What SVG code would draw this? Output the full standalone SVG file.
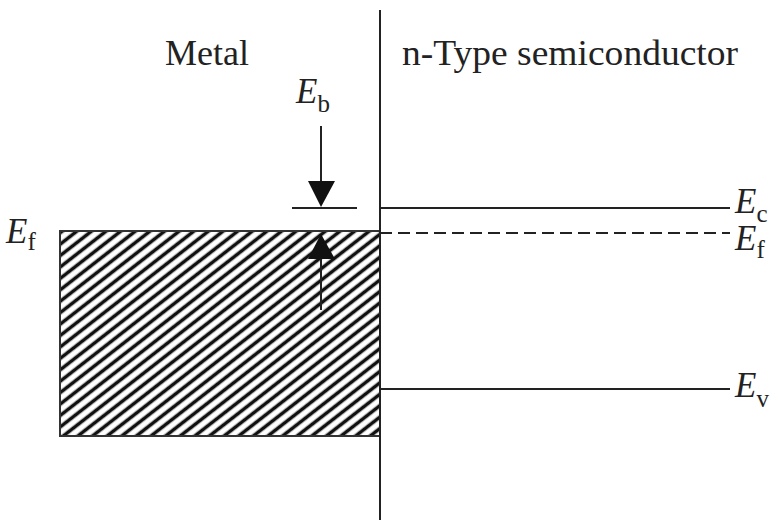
<svg xmlns="http://www.w3.org/2000/svg" width="777" height="520" viewBox="0 0 777 520">
<style>
.ln{stroke:#222;stroke-width:2;fill:none}
.t{font-family:"Liberation Serif","Times New Roman",serif;fill:#222}
.lbl{font-size:36px}
.it{font-style:italic;font-size:35px}
.sub{font-size:25px}
</style>
<defs>
<pattern id="hatch" width="9" height="9" patternUnits="userSpaceOnUse" patternTransform="rotate(-38)">
<rect width="9" height="9" fill="#fff"/>
<line x1="0" y1="4.5" x2="9" y2="4.5" stroke="#111" stroke-width="3.6"/>
</pattern>
</defs>
<g id="metal">
<rect x="60" y="231" width="320" height="205" fill="url(#hatch)" stroke="#333" stroke-width="2"/>
</g>
<g id="interface">
<line class="ln" x1="380" y1="10" x2="380" y2="520"/>
</g>
<g id="levels">
<line class="ln" x1="380" y1="208" x2="730" y2="208"/>
<line class="ln" x1="380" y1="233" x2="730" y2="233" stroke-dasharray="12,6"/>
<line class="ln" x1="380" y1="389" x2="730" y2="389"/>
<line class="ln" x1="292" y1="208" x2="357" y2="208"/>
</g>
<g id="connectors">
<line class="ln" x1="321" y1="126" x2="321" y2="182"/>
<path d="M308,181 L335,181 L321,207 z" fill="#111"/>
<line class="ln" x1="321" y1="310" x2="321" y2="258"/>
<path d="M308,259 L335,259 L321,234 z" fill="#111"/>
</g>
<g id="labels">
<text class="t lbl" x="207" y="65" text-anchor="middle">Metal</text>
<text class="t lbl" x="402" y="65" textLength="336" lengthAdjust="spacingAndGlyphs">n-Type semiconductor</text>
<text class="t" x="296" y="103"><tspan class="it">E</tspan><tspan class="sub" dy="9">b</tspan></text>
<text class="t" x="6" y="243"><tspan class="it">E</tspan><tspan class="sub" dy="7">f</tspan></text>
<text class="t" x="735" y="213"><tspan class="it">E</tspan><tspan class="sub" dy="9">c</tspan></text>
<text class="t" x="735" y="250"><tspan class="it">E</tspan><tspan class="sub" dy="8">f</tspan></text>
<text class="t" x="735" y="397"><tspan class="it">E</tspan><tspan class="sub" dy="10">v</tspan></text>
</g>
</svg>
